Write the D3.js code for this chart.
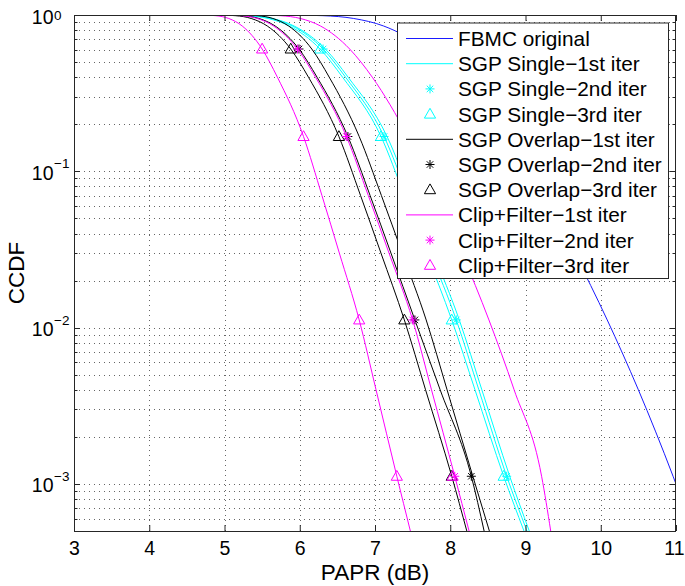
<!DOCTYPE html>
<html>
<head>
<meta charset="utf-8">
<script src="https://cdn.jsdelivr.net/npm/d3@7"></script>
<style>
  html, body { margin: 0; padding: 0; background: #fff; }
  svg { display: block; font-family: "Liberation Sans", Arial, Helvetica, sans-serif; }
</style>
</head>
<body>
<div id="chart"></div>
<script>
// ---------------- DATA ----------------
// CCDF probability levels (shared by all curves)
const ccdfLevels = [1, 0.999, 0.99, 0.95, 0.85, 0.606, 0.4, 0.167, 0.07, 0.03, 0.0112, 0.004, 0.00112, 0.0005];

// PAPR (dB) reached by each curve at the levels above
const fbmcOriginal = [4.15, 5.879, 6.306, 6.717, 7.116, 7.670, 8.089, 8.724, 9.224, 9.648, 10.086, 10.500, 10.961, 11.23];
const sgpSingle1   = [4.15, 5.056, 5.348, 5.638, 5.926, 6.34, 6.643, 7.16, 7.478, 7.777, 8.12, 8.420, 8.79, 9.05];
const sgpSingle2   = [4.15, 5.047, 5.335, 5.619, 5.903, 6.31, 6.609, 7.12, 7.438, 7.737, 8.08, 8.380, 8.75, 9.02];
const sgpSingle3   = [4.15, 5.005, 5.293, 5.578, 5.862, 6.27, 6.569, 7.08, 7.391, 7.684, 8.02, 8.329, 8.71, 8.98];
const sgpOverlap1  = [4.15, 5.232, 5.437, 5.643, 5.853, 6.16, 6.392, 6.79, 7.085, 7.362, 7.68, 7.958, 8.30, 8.52];
const sgpOverlap2  = [4.15, 5.032, 5.244, 5.458, 5.674, 5.99, 6.230, 6.64, 6.935, 7.212, 7.53, 7.866, 8.28, 8.45];
const sgpOverlap3  = [4.15, 4.937, 5.145, 5.355, 5.569, 5.88, 6.116, 6.52, 6.808, 7.079, 7.39, 7.672, 8.02, 8.22];
const clipFilter1  = [4.15, 5.47, 5.74, 6.009, 6.277, 6.663, 6.964, 7.437, 7.821, 8.155, 8.514, 8.849, 9.214, 9.335];
const clipFilter2  = [4.15, 5.009, 5.222, 5.436, 5.653, 5.97, 6.210, 6.62, 6.911, 7.186, 7.50, 7.751, 8.06, 8.25];
const clipFilter3  = [4.15, 4.711, 4.882, 5.057, 5.236, 5.50, 5.703, 6.05, 6.295, 6.526, 6.79, 7.014, 7.29, 7.47];

// Marker positions [PAPR dB, CCDF]
const sgpSingle2Marks  = [[6.31, 0.606], [7.12, 0.167], [8.08, 0.0112], [8.75, 0.00112]];
const sgpSingle3Marks  = [[6.27, 0.606], [7.08, 0.167], [8.02, 0.0112], [8.71, 0.00112]];
const sgpOverlap2Marks = [[5.99, 0.606], [6.64, 0.167], [7.53, 0.0112], [8.28, 0.00112]];
const sgpOverlap3Marks = [[5.88, 0.606], [6.52, 0.167], [7.39, 0.0112], [8.02, 0.00112]];
const clipFilter2Marks = [[5.97, 0.606], [6.62, 0.167], [7.50, 0.0112], [8.06, 0.00112]];
const clipFilter3Marks = [[5.50, 0.606], [6.05, 0.167], [6.79, 0.0112], [7.29, 0.00112], [8.03, 0.00112]];

const xTicks = [3, 4, 5, 6, 7, 8, 9, 10, 11];
const yDecades = [1, 0.1, 0.01, 0.001];
const legendLabels = [
  "FBMC original",
  "SGP Single\u22121st iter", "SGP Single\u22122nd iter", "SGP Single\u22123rd iter",
  "SGP Overlap\u22121st iter", "SGP Overlap\u22122nd iter", "SGP Overlap\u22123rd iter",
  "Clip+Filter\u22121st iter", "Clip+Filter\u22122nd iter", "Clip+Filter\u22123rd iter"
];

// ---------------- STYLE ----------------
const C_BLUE = "#1a1aff", C_CYAN = "#00ffff", C_BLACK = "#000000", C_MAG = "#ff00ff";
const W = 685, H = 586;
const M = { left: 74, right: 676, top: 15, bottom: 531 };

const curves = [
  { data: fbmcOriginal, color: C_BLUE },
  { data: sgpSingle1, color: C_CYAN },
  { data: sgpSingle2, color: C_CYAN, marks: sgpSingle2Marks, marker: "star" },
  { data: sgpSingle3, color: C_CYAN, marks: sgpSingle3Marks, marker: "tri" },
  { data: sgpOverlap1, color: C_BLACK },
  { data: sgpOverlap2, color: C_BLACK, marks: sgpOverlap2Marks, marker: "star" },
  { data: sgpOverlap3, color: C_BLACK, marks: sgpOverlap3Marks, marker: "tri" },
  { data: clipFilter1, color: C_MAG },
  { data: clipFilter2, color: C_MAG, marks: clipFilter2Marks, marker: "star" },
  { data: clipFilter3, color: C_MAG, marks: clipFilter3Marks, marker: "tri" }
];
const legendItems = [
  { color: C_BLUE, type: "line" },
  { color: C_CYAN, type: "line" }, { color: C_CYAN, type: "star" }, { color: C_CYAN, type: "tri" },
  { color: C_BLACK, type: "line" }, { color: C_BLACK, type: "star" }, { color: C_BLACK, type: "tri" },
  { color: C_MAG, type: "line" }, { color: C_MAG, type: "star" }, { color: C_MAG, type: "tri" }
];

// ---------------- DRAW ----------------
const svg = d3.select("#chart").append("svg").attr("width", W).attr("height", H);
svg.append("rect").attr("width", W).attr("height", H).attr("fill", "#fff");

const x = d3.scaleLinear().domain([3, 11]).range([M.left, M.right]);
const y = d3.scaleLog().domain([0.0005, 1]).range([M.bottom, M.top]);

// grid
const grid = svg.append("g").attr("stroke", "#666").attr("stroke-width", 1)
  .attr("stroke-dasharray", "1,4").attr("fill", "none");
xTicks.filter(t => t > 3 && t < 11).forEach(t => {
  const px = Math.round(x(t)) + 0.5;
  grid.append("line").attr("x1", px).attr("x2", px).attr("y1", M.top).attr("y2", M.bottom);
});
const yAll = y.ticks().filter(v => v < 0.9999 && v > 0.00051);
yAll.forEach(v => {
  const py = Math.round(y(v)) + 0.5;
  grid.append("line").attr("x1", M.left).attr("x2", M.right).attr("y1", py).attr("y2", py);
});

// curves
svg.append("clipPath").attr("id", "plotclip").append("rect")
  .attr("x", M.left).attr("y", M.top).attr("width", M.right - M.left).attr("height", M.bottom - M.top);
const plot = svg.append("g").attr("clip-path", "url(#plotclip)");
const line = d3.line().x(d => x(d[0])).y(d => y(d[1])).curve(d3.curveMonotoneX);

const starPath = r => {
  const a = r * 0.72;
  return `M0,${-r}L0,${r}M${-r},0L${r},0M${-a},${-a}L${a},${a}M${-a},${a}L${a},${-a}`;
};
const triPath = "M0,-5.8L5.6,4L-5.6,4Z";

function drawMarker(g, type, color, px, py) {
  if (type === "star") {
    g.append("path").attr("d", starPath(4.5)).attr("transform", `translate(${px},${py})`)
      .attr("stroke", color).attr("stroke-width", 1).attr("fill", "none");
  } else if (type === "tri") {
    g.append("path").attr("d", triPath).attr("transform", `translate(${px},${py})`)
      .attr("stroke", color).attr("stroke-width", 1).attr("fill", "none");
  }
}

curves.forEach(c => {
  const pts = c.data.map((v, i) => [v, ccdfLevels[i]]);
  plot.append("path").datum(pts).attr("d", line)
    .attr("fill", "none").attr("stroke", c.color).attr("stroke-width", 1);
  if (c.marks) {
    c.marks.forEach(m => drawMarker(plot, c.marker, c.color, x(m[0]), y(m[1])));
  }
});

// axes box
const axisColor = "#262626";
svg.append("rect").attr("x", M.left + 0.5).attr("y", M.top + 0.5)
  .attr("width", M.right - M.left - 1).attr("height", M.bottom - M.top)
  .attr("fill", "none").attr("stroke", axisColor).attr("stroke-width", 1);

// x axis (bottom, inward ticks) + top ticks
const xAxis = d3.axisBottom(x).tickValues(xTicks).tickFormat(d3.format("d"))
  .tickSizeInner(-6).tickSizeOuter(0).tickPadding(10);
const gx = svg.append("g").attr("transform", `translate(0,${M.bottom})`).call(xAxis);
gx.select(".domain").remove();
gx.selectAll("line").attr("stroke", axisColor);
gx.selectAll("text").attr("font-size", 19.5).attr("fill", "#000")
  .attr("font-family", "'Liberation Sans', Arial, sans-serif");
// keep the last label inside the page
gx.selectAll(".tick").filter(d => d === 11).select("text")
  .attr("text-anchor", "end").attr("x", W - 1 - x(11));
const gxt = svg.append("g").attr("transform", `translate(0,${M.top})`)
  .call(d3.axisTop(x).tickValues(xTicks).tickFormat("").tickSizeInner(-6).tickSizeOuter(0));
gxt.select(".domain").remove();
gxt.selectAll("line").attr("stroke", axisColor);

// y axis ticks (left and right, major + minor, inward)
const yMajor = yDecades;
const yMinor = y.ticks().filter(v => !yDecades.some(d => Math.abs(d - v) < 1e-12));
[[M.left, 1], [M.right, -1]].forEach(([ax, dir]) => {
  const gy = svg.append("g");
  yMajor.forEach(v => {
    const py = Math.round(y(v)) + 0.5;
    gy.append("line").attr("x1", ax).attr("x2", ax + dir * 6).attr("y1", py).attr("y2", py)
      .attr("stroke", axisColor);
  });
  yMinor.filter(v => v > 0.00051).forEach(v => {
    const py = Math.round(y(v)) + 0.5;
    gy.append("line").attr("x1", ax).attr("x2", ax + dir * 3.5).attr("y1", py).attr("y2", py)
      .attr("stroke", axisColor);
  });
});

// y tick labels 10^n
yDecades.forEach(v => {
  const e = Math.round(Math.log10(v));
  const py = y(v);
  const baseY = Math.max(py + 8.5, 24);
  const expY = Math.max(py - 3, 20);
  svg.append("text").attr("x", 53.5).attr("y", baseY).attr("text-anchor", "end")
    .attr("font-size", 19.5).attr("fill", "#000").text("10");
  svg.append("text").attr("x", 54).attr("y", expY)
    .attr("font-size", 13.5).attr("fill", "#000").text(e === 0 ? "0" : "\u2212" + Math.abs(e));
});

// axis labels
svg.append("text").attr("x", (M.left + M.right) / 2).attr("y", 580).attr("text-anchor", "middle")
  .attr("font-size", 22.5).attr("fill", "#000").text("PAPR (dB)");
svg.append("text").attr("transform", `translate(24,${(M.top + M.bottom) / 2}) rotate(-90)`)
  .attr("text-anchor", "middle").attr("font-size", 22.5).attr("fill", "#000").text("CCDF");

// legend
const L = { x: 397, y: 22.5, w: 271, h: 255.5 };
const lg = svg.append("g");
lg.append("rect").attr("x", L.x + 0.5).attr("y", L.y + 0.5).attr("width", L.w).attr("height", L.h)
  .attr("fill", "#fff").attr("stroke", axisColor).attr("stroke-width", 1);
legendItems.forEach((it, i) => {
  const ry = 38.5 + i * 25.2;
  if (it.type === "line") {
    lg.append("line").attr("x1", 406).attr("x2", 453).attr("y1", ry).attr("y2", ry)
      .attr("stroke", it.color).attr("stroke-width", 1);
  } else {
    drawMarker(lg, it.type, it.color, 430, ry);
  }
  lg.append("text").attr("x", 458).attr("y", ry + 7.4).attr("font-size", 20.8)
    .attr("fill", "#000").text(legendLabels[i]);
});
</script>
</body>
</html>
